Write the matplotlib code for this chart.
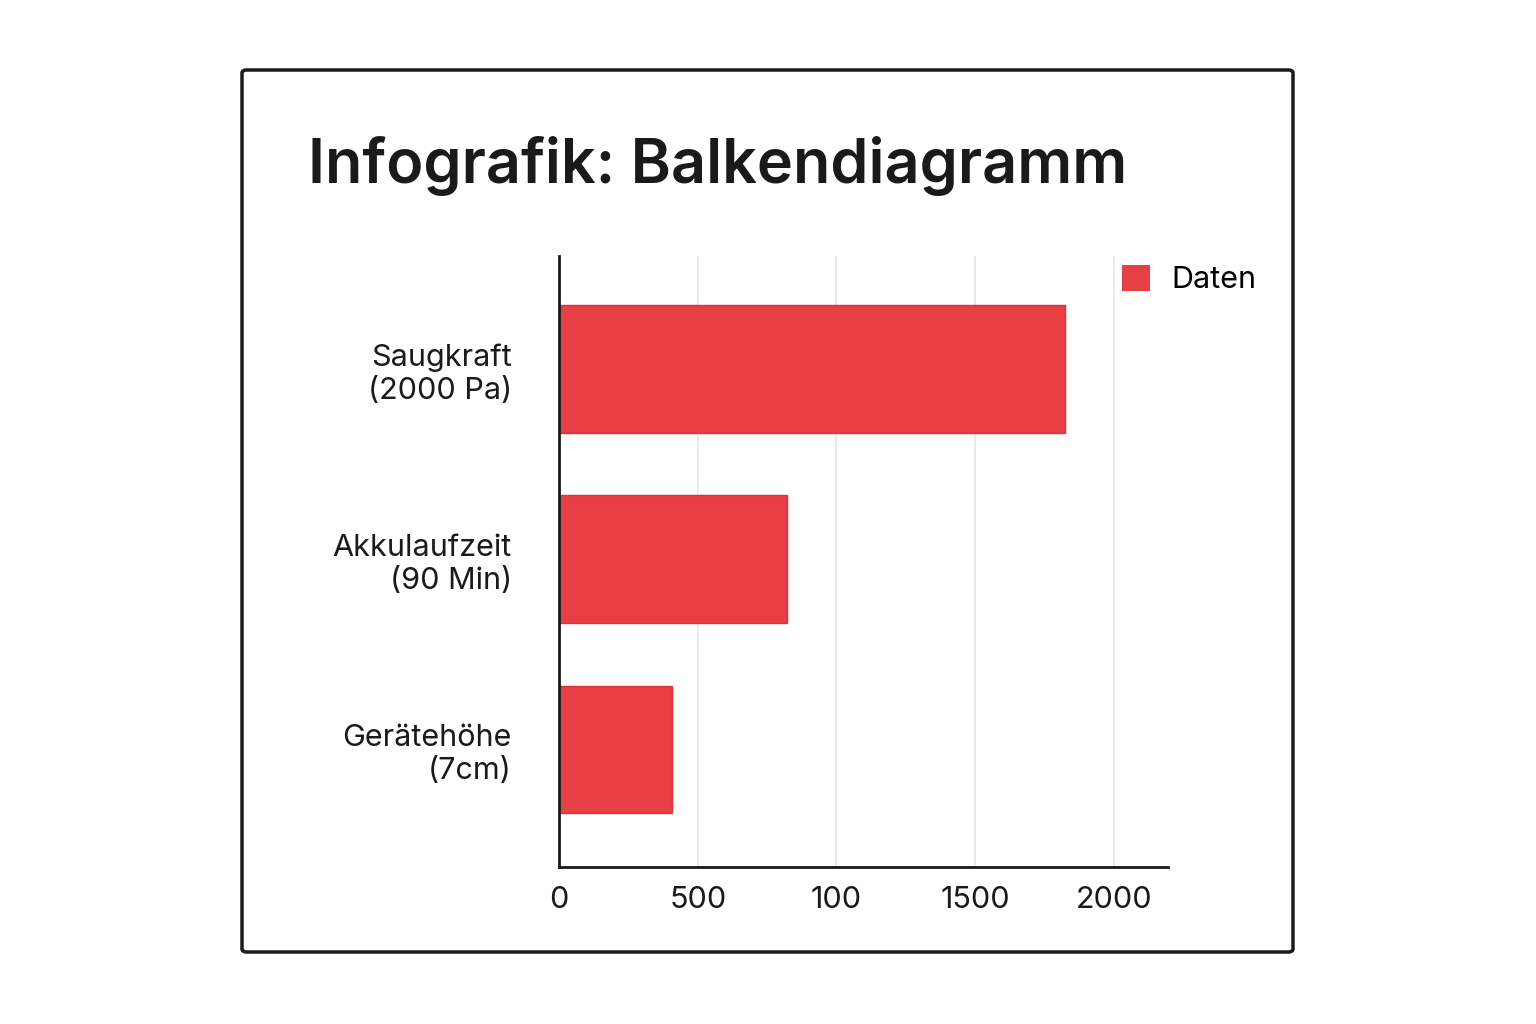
import matplotlib.pyplot as plt
from matplotlib.patches import FancyBboxPatch, Patch

plt.rcParams['font.family'] = ['Inter', 'DejaVu Sans']

# Data
categories = ['Saugkraft\n(2000 Pa)', 'Akkulaufzeit\n(90 Min)', 'Gerätehöhe\n(7cm)']
values = [1823, 822, 407]
tick_values = [0, 500, 1000, 1500, 2000]
tick_labels = ['0', '500', '100', '1500', '2000']
bar_color = '#E83F45'

fig = plt.figure(figsize=(15.36, 10.24), dpi=100)

# outer frame (drawn below the axes)
frame = FancyBboxPatch((242 / 1536, 1 - 952 / 1024), (1293 - 242) / 1536, (952 - 70) / 1024,
                       boxstyle='round,pad=0,rounding_size=0.003', transform=fig.transFigure,
                       facecolor='white', edgecolor='#1a1a1a', linewidth=2.5, zorder=-5)
fig.patches.append(frame)

fig.text(308 / 1536, 1 - 166 / 1024, 'Infografik: Balkendiagramm', fontsize=44,
         fontweight='semibold', color='#1a1a1a', va='center', ha='left')

ax = fig.add_axes([559 / 1536, 1 - 867 / 1024, (1168 - 559) / 1536, (867 - 256) / 1024])
ax.set_zorder(2)
ax.patch.set_alpha(0)
ax.barh(range(len(categories)), values, height=0.67, color=bar_color, edgecolor='#d8343a', linewidth=1)
ax.set_ylim(2.62, -0.595)
ax.set_xlim(0, 2195)
ax.set_yticks(range(len(categories)))
ax.set_yticklabels(categories, fontsize=22, color='#1a1a1a', ha='right')
ax.set_xticks(tick_values)
ax.set_xticklabels(tick_labels, fontsize=22, color='#1a1a1a')
ax.tick_params(length=0, pad=34, axis='y')
ax.tick_params(length=0, pad=14, axis='x')
ax.grid(axis='x', color='#e6e6e6', linewidth=1.2)
ax.set_axisbelow(True)
for s in ['top', 'right']:
    ax.spines[s].set_visible(False)
for s in ['left', 'bottom']:
    ax.spines[s].set_linewidth(2)
    ax.spines[s].set_color('#1a1a1a')

ax.legend(handles=[Patch(facecolor=bar_color, label='Daten')], loc='upper left',
          bbox_to_anchor=(0.88, 1.03), frameon=False, fontsize=22,
          handlelength=0.9, handleheight=0.9, handletextpad=0.7)

fig.savefig('out.png', dpi=100, facecolor='white')
